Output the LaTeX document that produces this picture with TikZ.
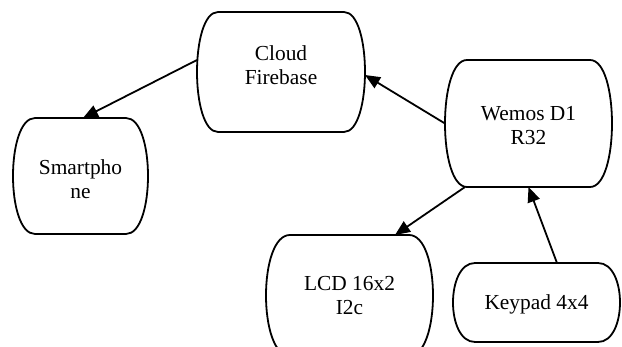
\documentclass[tikz,border=0pt]{standalone}
\usepackage{fontspec}
\setmainfont{Liberation Serif}
\usetikzlibrary{arrows.meta}
\newcommand\podshape[2]{%
  \draw[podline] ([xshift=#2]#1.north west) -- ([xshift=-#2]#1.north east)
    .. controls ([xshift=#2/3]#1.north east) and ([xshift=#2/3]#1.south east) .. ([xshift=-#2]#1.south east)
    -- ([xshift=#2]#1.south west)
    .. controls ([xshift=-#2/3]#1.south west) and ([xshift=-#2/3]#1.north west) .. cycle;}
\begin{document}
\begin{tikzpicture}[x=1pt,y=-1pt,
  box/.style={inner sep=0pt, outer sep=0pt, draw=none},
  txt/.style={align=center, font=\fontsize{21.4}{24}\selectfont},
  podline/.style={line width=1.8pt, line join=round},
  arr/.style={line width=1.8pt, -{Triangle[length=15pt,width=12.5pt]}}]
\useasboundingbox (0,0) rectangle (622,347);
\begin{scope}
\clip (0,0) rectangle (622,347);
\node[box, minimum width=168pt, minimum height=120pt,
  label={[txt,yshift=7pt]center:Cloud\\Firebase}] (cloud) at (281,72) {};
\node[box, minimum width=135pt, minimum height=116pt,
  label={[txt,yshift=-3pt]center:Smartpho\\ne}] (phone) at (80.5,176) {};
\node[box, minimum width=167pt, minimum height=127pt,
  label={[txt,yshift=-2pt]center:Wemos D1\\R32}] (wemos) at (528.5,123.5) {};
\node[box, minimum width=167pt, minimum height=121pt,
  label={[txt]center:LCD 16x2\\I2c}] (lcd) at (349.5,295.5) {};
\node[box, minimum width=167pt, minimum height=79pt,
  label={[txt,yshift=-2pt]center:Keypad 4x4}] (keypad) at (536.5,302.5) {};
\podshape{cloud}{21pt}
\podshape{phone}{22pt}
\podshape{wemos}{22pt}
\podshape{lcd}{24pt}
\podshape{keypad}{22pt}
\draw[arr] ([yshift=12pt]cloud.west) -- ([xshift=2.5pt]phone.north);
\draw[arr] (wemos.west) -- ([yshift=-3pt]cloud.east);
\draw[arr] ([xshift=20pt]wemos.south west) -- ([xshift=45.5pt]lcd.north);
\draw[arr] ([xshift=20.5pt]keypad.north) -- (wemos.south);
\end{scope}
\end{tikzpicture}
\end{document}
